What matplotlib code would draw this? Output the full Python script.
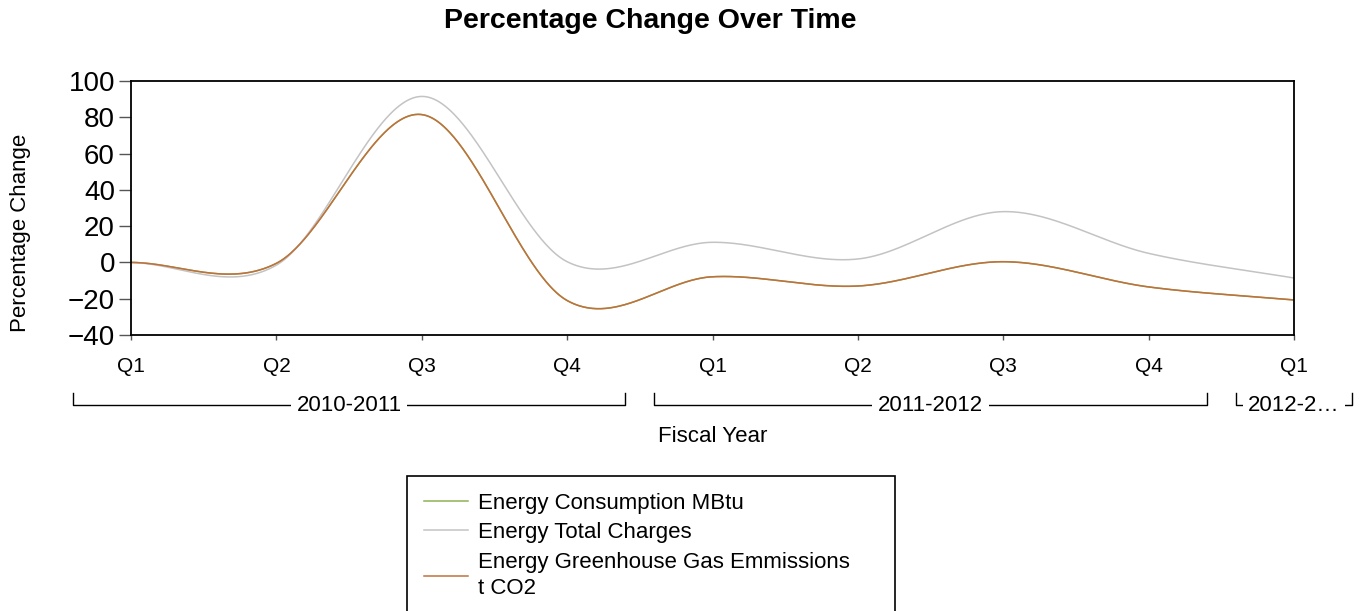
import numpy as np
import matplotlib.pyplot as plt
import matplotlib.transforms as mtransforms

plt.rcParams['font.family'] = ['Liberation Sans', 'DejaVu Sans']

quarters = ["Q1", "Q2", "Q3", "Q4", "Q1", "Q2", "Q3", "Q4", "Q1"]
years = ["2010-2011", "2011-2012", "2012-2\u2026"]
year_span = [(0, 3), (4, 7), (8, 8)]

consumption = [0, -0.5, 81.5, -21, -7.9, -13, 0.4, -13.5, -20.7]
charges = [0, -1.5, 91.5, 0.4, 11.1, 1.9, 28, 5, -8.6]
ghg = [0, -0.5, 81.5, -21, -7.9, -13, 0.4, -13.5, -20.7]

c_green = "#8db255"
c_gray = "#c3c3c3"
c_orange = "#c0703c"


def smooth(x, y, xs):
    # catmull-rom curve through the points, just for drawing
    x = np.asarray(x, float)
    y = np.asarray(y, float)
    n = len(y)
    m = np.zeros(n)
    m[1:-1] = (y[2:] - y[:-2]) / 2
    m[0] = y[1] - y[0]
    m[-1] = y[-1] - y[-2]
    i = np.clip(np.floor(xs).astype(int), 0, n - 2)
    t = xs - x[i]
    h00 = 2 * t**3 - 3 * t**2 + 1
    h10 = t**3 - 2 * t**2 + t
    h01 = -2 * t**3 + 3 * t**2
    h11 = t**3 - t**2
    return h00 * y[i] + h10 * m[i] + h01 * y[i + 1] + h11 * m[i + 1]


x = np.arange(len(quarters))
xs = np.linspace(0, len(quarters) - 1, 800)

fig = plt.figure(figsize=(13.64, 6.11), dpi=100)
ax = fig.add_axes([131 / 1364, 1 - 335 / 611, 1163 / 1364, 254 / 611])

ax.plot(xs, smooth(x, consumption, xs), color=c_green, lw=1.1, label="Energy Consumption MBtu")
ax.plot(xs, smooth(x, charges, xs), color=c_gray, lw=1.1, label="Energy Total Charges")
ax.plot(xs, smooth(x, ghg, xs), color=c_orange, lw=1.1,
        label="Energy Greenhouse Gas Emmissions\nt CO2")

ax.set_xlim(0, 8)
ax.set_ylim(-40, 100)
ax.set_yticks(range(-40, 101, 20))
ax.set_xticks(x)
ax.set_xticklabels(quarters, fontsize=15)
ax.tick_params(axis='y', labelsize=20, length=8.6, width=1, color="#555555", pad=3)
ax.tick_params(axis='x', length=3.6, width=1, color="#555555", pad=12)
for s in ax.spines.values():
    s.set_linewidth(1.3)

fig.text(650 / 1364, 1 - 21 / 611, "Percentage Change Over Time", fontsize=20.5,
         fontweight='bold', ha='center', va='center')
ax.text(-0.0954, (335 - 233) / 254, "Percentage Change", rotation=90, fontsize=16,
        ha='center', va='center', transform=ax.transAxes)
ax.text(0.5, -0.40, "Fiscal Year", fontsize=16, ha='center', va='center',
        transform=ax.transAxes)

# year brackets under the quarter labels
tr = mtransforms.blended_transform_factory(ax.transData, ax.transAxes)
y_line = -0.2756
y_top = -0.228
for lab, (a, b) in zip(years, year_span):
    x0, x1 = a - 0.4, b + 0.4
    ax.plot([x0, x0, x1, x1], [y_top, y_line, y_line, y_top], color="black",
            lw=1, transform=tr, clip_on=False)
    ax.text((x0 + x1) / 2, y_line, lab, fontsize=16, ha='center', va='center',
            transform=tr, bbox=dict(facecolor='white', edgecolor='none', pad=4))

leg = fig.legend(loc='upper left', bbox_to_anchor=(396 / 1364, 1 - 471 / 611, 510 / 1364, 0.01),
                 mode='expand', fontsize=16, handlelength=2.0, handletextpad=0.45,
                 labelspacing=0.38, borderpad=0.75, fancybox=False, framealpha=1)
leg.get_frame().set_edgecolor("black")
leg.get_frame().set_linewidth(1.2)
leg.get_texts()[2].set_linespacing(1.35)

fig.savefig("out.png", dpi=100)
